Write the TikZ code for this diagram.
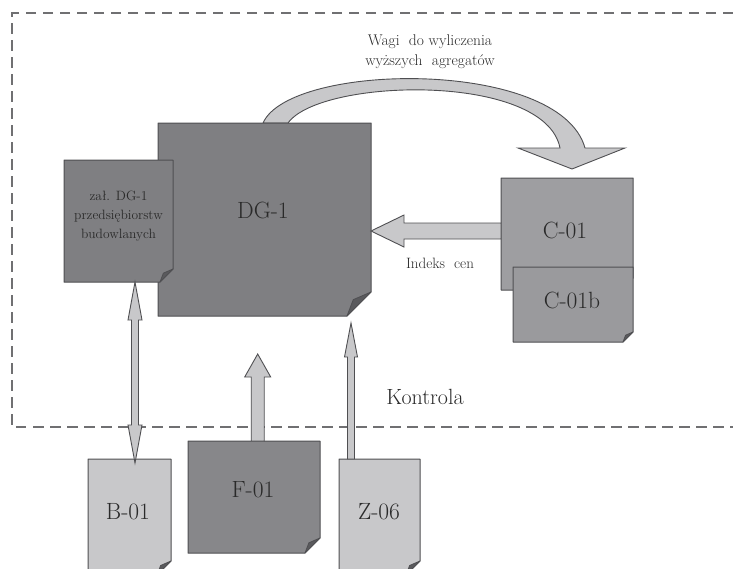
\documentclass[tikz,border=0pt]{standalone}
\usetikzlibrary{calc}

\definecolor{edge}{HTML}{4F4F52}
\definecolor{ink}{HTML}{2A2A2A}
\definecolor{framegray}{HTML}{707072}
\definecolor{darkdoc}{HTML}{7F7F82}
\definecolor{fdoc}{HTML}{87878A}
\definecolor{middoc}{HTML}{9E9EA1}
\definecolor{middocb}{HTML}{9A9A9D}
\definecolor{lightdoc}{HTML}{C8C8CA}
\definecolor{arrowfill}{HTML}{C8C8CA}
\definecolor{foldfill}{HTML}{5A5A5D}

\tikzset{
  box/.style={inner sep=0pt, outer sep=0pt},
  lbl/.style={text=ink, inner sep=0pt},
  big/.style={lbl, font=\fontsize{23.5}{28}\selectfont},
  arrowbody/.style={fill=arrowfill, draw=edge, line width=0.9pt, line join=miter},
  ctrlframe/.style={draw=framegray, line width=2.2pt, dash pattern=on 10.5pt off 6.5pt},
}

% document page with a folded lower-right corner: node name, fold size, fill
\newcommand\docpage[3]{%
  \filldraw[fill=#3, draw=edge, line width=1pt, line join=round]
    (#1.north west) -- (#1.north east) -- ([yshift=#2]#1.south east)
    -- ([xshift=-#2]#1.south east) -- (#1.south west) -- cycle;
  \filldraw[fill=foldfill, draw=edge, line width=0.8pt, line join=round]
    ([yshift=#2]#1.south east) -- ([xshift=-0.74*#2,yshift=0.68*#2]#1.south east)
    -- ([xshift=-#2]#1.south east) -- cycle;
}

% block arrow: tail, tip, half shaft width, half head width, head length, helper name
\newcommand\blockarrow[6]{%
  \coordinate (#6) at ($(#2)!#5!(#1)$);
  \filldraw[arrowbody]
    ($(#1)!#3!90:(#2)$) -- ($(#6)!#3!90:(#2)$) -- ($(#6)!#4!90:(#2)$) -- (#2)
    -- ($(#6)!#4!-90:(#2)$) -- ($(#6)!#3!-90:(#2)$) -- ($(#1)!#3!-90:(#2)$) -- cycle;
}

% block arrow with heads at both ends
\newcommand\dblockarrow[5]{%
  \coordinate (hbA) at ($(#1)!#5!(#2)$);
  \coordinate (hbB) at ($(#2)!#5!(#1)$);
  \filldraw[arrowbody]
    (#1) -- ($(hbA)!#4!90:(#2)$) -- ($(hbA)!#3!90:(#2)$) -- ($(hbB)!#3!90:(#2)$)
    -- ($(hbB)!#4!90:(#2)$) -- (#2) -- ($(hbB)!#4!-90:(#2)$) -- ($(hbB)!#3!-90:(#2)$)
    -- ($(hbA)!#3!-90:(#2)$) -- ($(hbA)!#4!-90:(#2)$) -- cycle;
}

\begin{document}
\begin{tikzpicture}[x=1pt, y=-1pt]
\useasboundingbox (0,0) rectangle (733,568);

% control frame (open on the right)
\draw[ctrlframe] (733,13) -- (12,13) -- (12,427) -- (733,427);

% document placeholders
\node[box, minimum width=213pt, minimum height=193pt] (dg)   at (264.5,219.5) {};
\node[box, minimum width=109pt, minimum height=122pt] (zal)  at (118.5,221) {};
\node[box, minimum width=132pt, minimum height=112pt] (c01)  at (567,234) {};
\node[box, minimum width=120pt, minimum height=75pt]  (c01b) at (573,304.5) {};
\node[box, minimum width=83pt,  minimum height=116pt] (b01)  at (129.5,517) {};
\node[box, minimum width=132pt, minimum height=112pt] (f01)  at (254,497) {};
\node[box, minimum width=81pt,  minimum height=116pt] (z06)  at (379.5,517) {};

% curved weight arrow from DG-1 to C-01
\coordinate (wTip) at ([xshift=5pt,yshift=9pt]c01.north);
\filldraw[arrowbody]
  ([xshift=-1.5pt]dg.north) .. controls (290,62) and (560,58) .. (585,148)
  -- (625,148) -- (wTip) -- (518,148) -- (560,148)
  .. controls (545,72) and (320,78) .. ([xshift=23.5pt]dg.north) -- cycle;

% documents
\docpage{dg}{24pt}{darkdoc}
\docpage{zal}{13pt}{darkdoc}
\docpage{c01}{12pt}{middoc}
\docpage{c01b}{10pt}{middocb}
\docpage{f01}{15pt}{fdoc}
\docpage{b01}{14pt}{lightdoc}
\docpage{z06}{14pt}{lightdoc}

% straight arrows
\coordinate (iTail) at (c01.west |- 0,231);
\coordinate (iTip)  at (dg.east |- 0,231);
\blockarrow{iTail}{iTip}{8pt}{16pt}{33pt}{iHead}

\coordinate (fTail) at ([xshift=3.7pt]f01.north);
\coordinate (fTip)  at (fTail |- 0,354);
\blockarrow{fTail}{fTip}{6.5pt}{13pt}{23pt}{fHead}

\coordinate (zTail) at (z06.north -| 351,0);
\coordinate (zTip)  at (zTail |- 0,323);
\blockarrow{zTail}{zTip}{3.5pt}{6.5pt}{34pt}{zHead}

\coordinate (bTop) at (zal.south -| 135,0);
\coordinate (bBot) at ([yshift=-4pt]b01.north -| 135,0);
\dblockarrow{bTop}{bBot}{3.5pt}{7pt}{38pt}

% labels
\node[big] (dgT)   at (263,210) {DG-1};
\node[lbl, align=center, font=\fontsize{13.5}{19}\selectfont] (zalT) at (118.5,216)
  {zał. DG-1\\przedsiębiorstw\\budowlanych};
\node[big] (c01T)  at (565,230) {C-01};
\node[big] (c01bT) at (572,300) {C-01b};
\node[big] (b01T)  at (128,512) {B-01};
\node[big] (f01T)  at (253,490) {F-01};
\node[big] (z06T)  at (379,512) {Z-06};
\node[lbl, font=\fontsize{22}{26}\selectfont] (kT) at (425,397) {Kontrola};
\node[lbl, align=center, font=\fontsize{15.5}{20}\selectfont] (wT) at (430,52)
  {Wagi\ \ do wyliczenia\\wyższych\ \ agregatów};
\node[lbl, font=\fontsize{15}{18}\selectfont] (iT) at (440,263) {Indeks\ \ cen};
\end{tikzpicture}
\end{document}
